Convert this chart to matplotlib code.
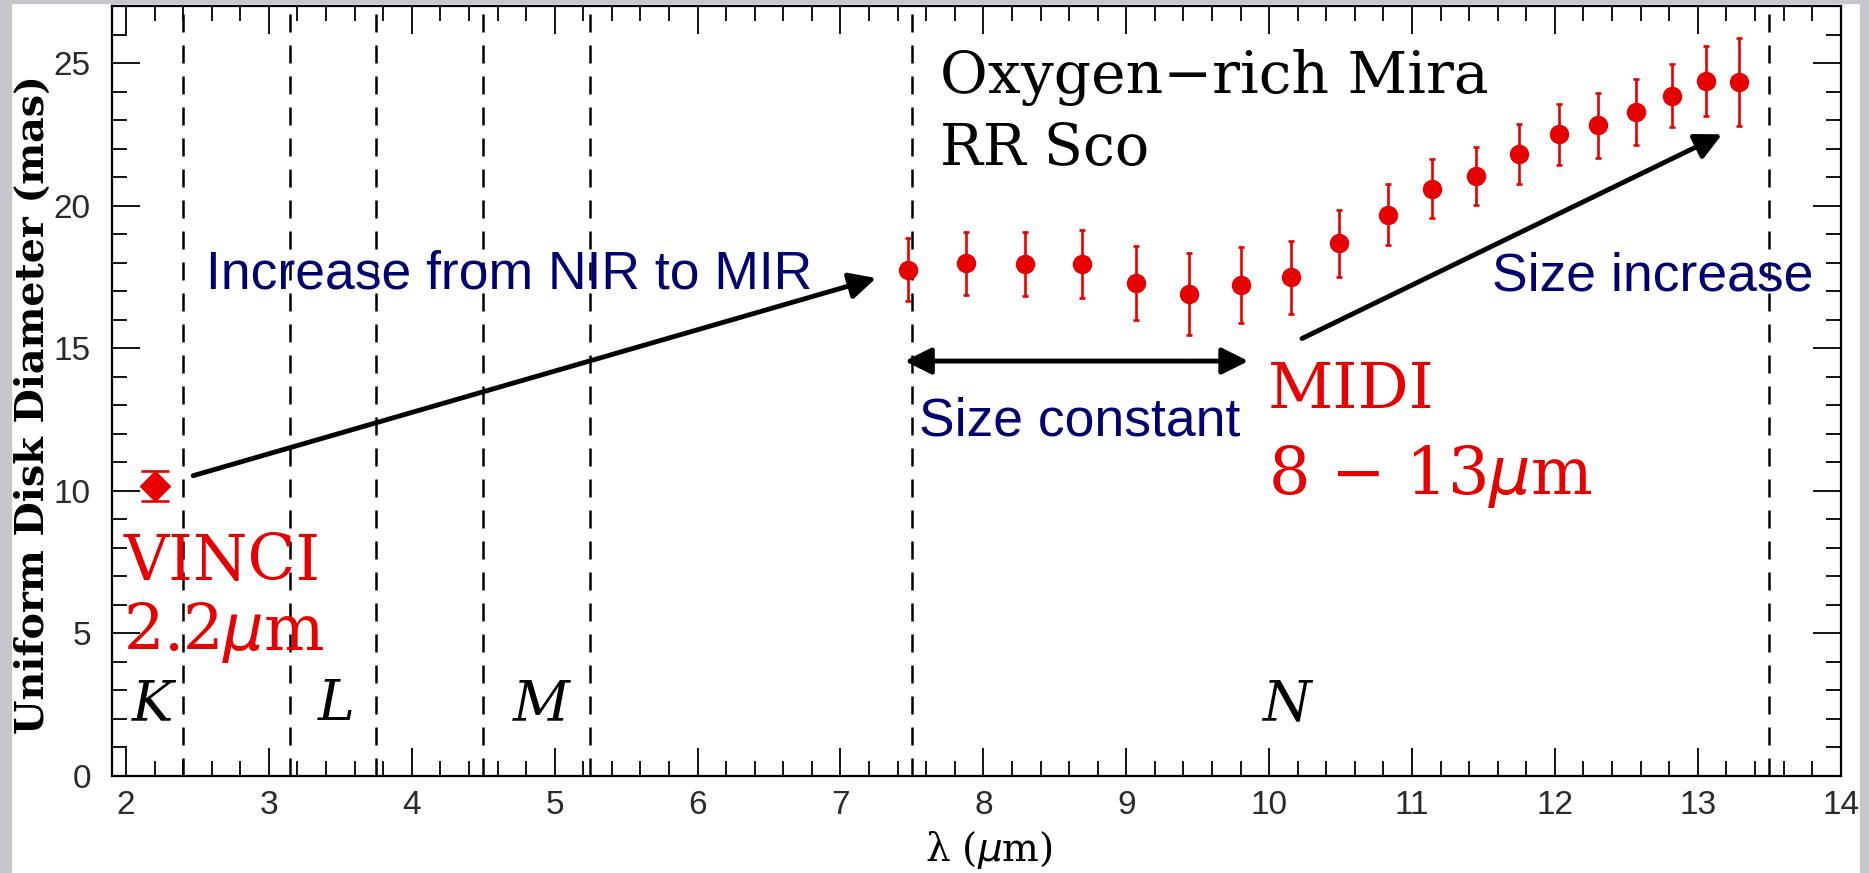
import matplotlib
matplotlib.use("Agg")
import matplotlib.pyplot as plt
from matplotlib.patches import Rectangle
from matplotlib.ticker import MultipleLocator

# ---- data ----
vinci_wl = [2.2]
vinci_ud = [10.18]
vinci_err = [0.53]

midi_wl = [7.47, 7.88, 8.29, 8.69, 9.07, 9.44, 9.80, 10.15, 10.49, 10.83,
           11.14, 11.45, 11.75, 12.03, 12.30, 12.57, 12.82, 13.06, 13.29]
midi_ud = [17.75, 17.98, 17.96, 17.96, 17.28, 16.90, 17.22, 17.48, 18.68, 19.68,
           20.60, 21.03, 21.80, 22.50, 22.82, 23.29, 23.85, 24.38, 24.34]
midi_err = [1.10, 1.10, 1.13, 1.20, 1.30, 1.43, 1.33, 1.28, 1.17, 1.07,
            1.04, 1.02, 1.05, 1.06, 1.14, 1.16, 1.10, 1.23, 1.54]

band_edges = [2.4, 3.15, 3.75, 4.5, 5.25, 7.5, 13.5]
band_names = ['K', 'L', 'M', 'N']
band_label_x = [2.04, 3.34, 4.71, 9.95]

RED = '#e60000'
NAVY = '#000070'
SERIF = 'DejaVu Serif'
SANS = 'Liberation Sans'

fig = plt.figure(figsize=(18.69, 8.73), dpi=100)
fig.patch.set_facecolor('white')
# grey frame strips of the original screenshot
for r in [(0, 0, 11/1869, 1), (1860/1869, 0, 9/1869, 1), (0, 870/873, 1, 3/873)]:
    fig.add_artist(Rectangle(r[:2], r[2], r[3], transform=fig.transFigure,
                             color='#c6c6cc', zorder=0))

ax = fig.add_axes([111.7/1869, 1-776/873, 1729/1869, 770/873])
ax.set_xlim(1.9, 14)
ax.set_ylim(0, 27)

for e in band_edges:
    ax.axvline(e, color='black', lw=1.8, dashes=(7.2, 5.2), zorder=1)

ax.errorbar(midi_wl, midi_ud, yerr=midi_err, fmt='o', color=RED, ms=13,
            elinewidth=1.9, capsize=2.5, capthick=1.9, zorder=3)
ax.errorbar(vinci_wl, vinci_ud, yerr=vinci_err, fmt='D', color=RED, ms=15,
            elinewidth=1.9, capsize=10, capthick=1.9, zorder=3)

for name, x in zip(band_names, band_label_x):
    ax.text(x, 1.97, name, family=SERIF, style='italic', fontsize=40,
            va='baseline', ha='left')

ax.text(7.70, 23.96, 'Oxygen\u2212rich Mira', family=SERIF, fontsize=42,
        va='baseline', ha='left')
ax.text(7.70, 21.44, 'RR Sco', family=SERIF, fontsize=41,
        va='baseline', ha='left')

ax.text(1.98, 6.89, 'VINCI', family=SERIF, fontsize=45, color=RED,
        va='baseline', ha='left')
ax.text(1.98, 4.43, '2.2$\\mu$m', family=SERIF, fontsize=46, color=RED,
        va='baseline', ha='left')
ax.text(9.99, 12.91, 'MIDI', family=SERIF, fontsize=46, color=RED,
        va='baseline', ha='left')
ax.text(9.99, 9.88, '8 \u2212 13$\\mu$m', family=SERIF, fontsize=47,
        color=RED, va='baseline', ha='left')

ax.text(2.56, 17.1, 'Increase from NIR to MIR', family=SANS, fontsize=38.5,
        color=NAVY, va='baseline', ha='left')
ax.text(7.55, 11.94, 'Size constant', family=SANS, fontsize=38.5,
        color=NAVY, va='baseline', ha='left')
ax.text(11.56, 17.04, 'Size increase', family=SANS, fontsize=38.5,
        color=NAVY, va='baseline', ha='left')

arrow = dict(arrowstyle='-|>', color='black', lw=3.5, mutation_scale=40,
             shrinkA=0, shrinkB=0)
ax.annotate('', xy=(7.25, 17.46), xytext=(2.47, 10.53), arrowprops=arrow)
ax.annotate('', xy=(13.17, 22.5), xytext=(10.23, 15.34), arrowprops=arrow)
ax.annotate('', xy=(9.855, 14.55), xytext=(7.45, 14.55),
            arrowprops=dict(arrow, arrowstyle='<|-|>'))

ax.xaxis.set_major_locator(MultipleLocator(1))
ax.xaxis.set_minor_locator(MultipleLocator(0.2))
ax.yaxis.set_major_locator(MultipleLocator(5))
ax.yaxis.set_minor_locator(MultipleLocator(1))
ax.tick_params(which='both', direction='in', top=True, right=True, width=1.3,
               labelsize=24, labelcolor='#2a2a2a')
ax.tick_params(which='major', length=20)
ax.tick_params(which='minor', length=11)
ax.tick_params(axis='x', pad=10)
ax.tick_params(axis='y', pad=15)
for lab in ax.get_xticklabels() + ax.get_yticklabels():
    lab.set_family(SANS)
for s in ax.spines.values():
    s.set_linewidth(1.6)

fig.text(33/1869, 1-405/873, 'Uniform Disk Diameter (mas)', family=SERIF,
         weight='bold', fontsize=28.5, rotation=90, ha='center', va='center')
fig.text(989/1869, 1-850/873, '\u03bb ($\\mu$m)', family=SERIF,
         fontsize=28, ha='center', va='center')

fig.savefig('out.png', dpi=100)
